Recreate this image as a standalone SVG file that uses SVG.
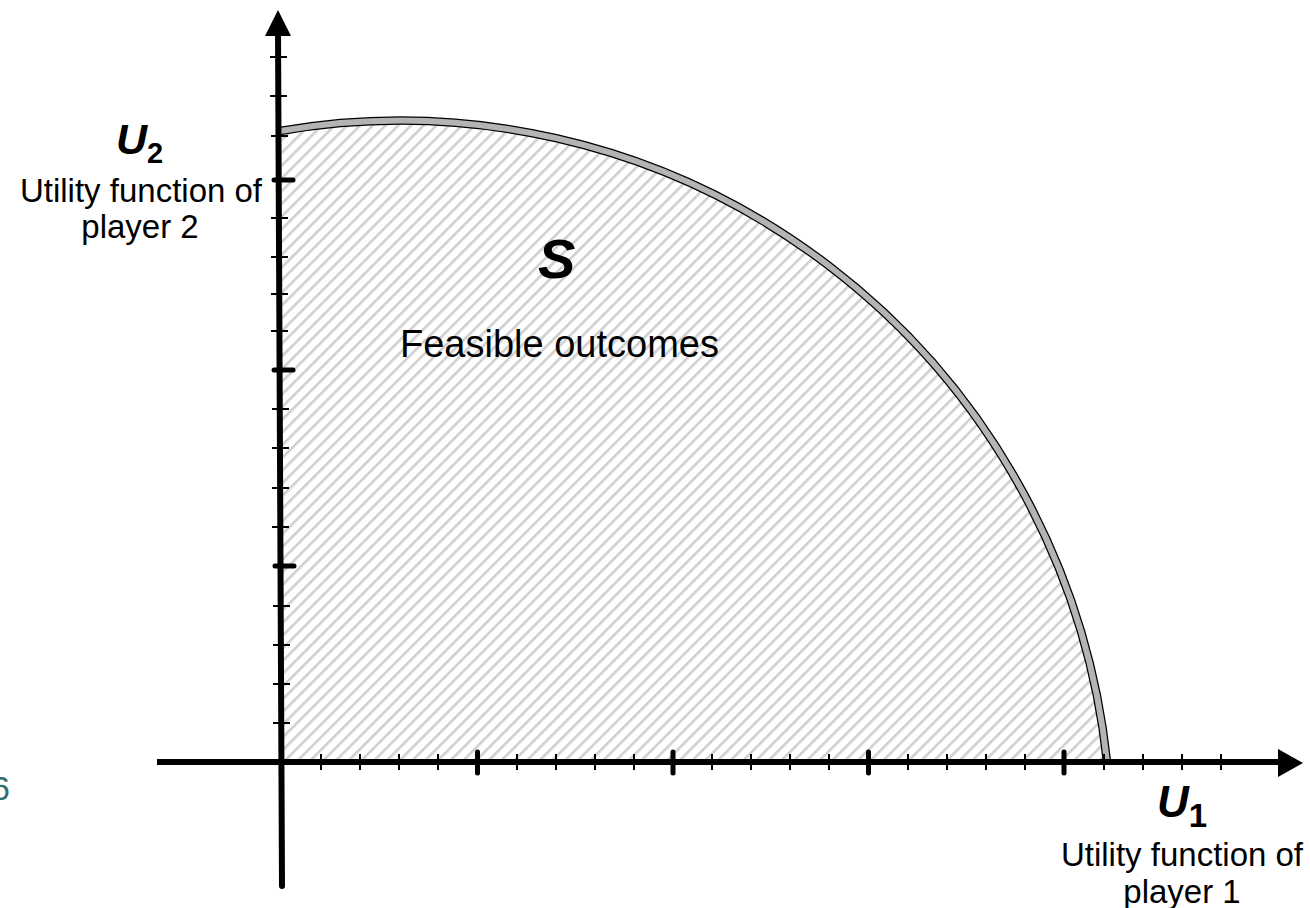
<svg xmlns="http://www.w3.org/2000/svg" width="1310" height="908" viewBox="0 0 1310 908">
  <style>
    .lbl { font-family: "Liberation Sans", Arial, sans-serif; fill: #000; }
    .ax { stroke: #000; stroke-width: 6; fill: none; }
    .mn { stroke: #000; stroke-width: 2; }
    .mj { stroke: #000; stroke-width: 5; stroke-linecap: round; }
  </style>
  <defs>
    <pattern id="hatch" patternUnits="userSpaceOnUse" width="9" height="9" patternTransform="rotate(45)">
      <rect x="0" y="0" width="2.6" height="9" fill="#cfcfcf"/>
    </pattern>
  </defs>
  <rect width="1310" height="908" fill="#fff"/>

  <g id="feasible-region">
    <path d="M 282 130 A 710.9 717 0 0 1 1107 762 L 282 762 Z" fill="url(#hatch)"/>
  </g>

  <g id="frontier">
    <path d="M 280 131 A 710.9 717 0 0 1 1107 762" fill="none" stroke="#000" stroke-width="8.5"/>
    <path d="M 280 131 A 710.9 717 0 0 1 1107 762" fill="none" stroke="#b4b4b4" stroke-width="6"/>
  </g>

  <g id="connectors">
    <line class="ax" x1="278" y1="30" x2="282" y2="886" stroke-linecap="round"/>
    <polygon points="278,10 265,36 291,36" fill="#000"/>
    <line class="ax" x1="157" y1="762" x2="1282" y2="762"/>
    <polygon points="1303,763 1278,749 1278,777" fill="#000"/>
    <g id="x-ticks">
      <line class="mn" x1="321" y1="754" x2="321" y2="770"/>
      <line class="mn" x1="360" y1="754" x2="360" y2="770"/>
      <line class="mn" x1="399" y1="754" x2="399" y2="770"/>
      <line class="mn" x1="438" y1="754" x2="438" y2="770"/>
      <line class="mj" x1="477.5" y1="752" x2="477.5" y2="773"/>
      <line class="mn" x1="517" y1="754" x2="517" y2="770"/>
      <line class="mn" x1="556" y1="754" x2="556" y2="770"/>
      <line class="mn" x1="595" y1="754" x2="595" y2="770"/>
      <line class="mn" x1="634" y1="754" x2="634" y2="770"/>
      <line class="mj" x1="673" y1="752" x2="673" y2="773"/>
      <line class="mn" x1="712" y1="754" x2="712" y2="770"/>
      <line class="mn" x1="751" y1="754" x2="751" y2="770"/>
      <line class="mn" x1="790" y1="754" x2="790" y2="770"/>
      <line class="mn" x1="829" y1="754" x2="829" y2="770"/>
      <line class="mj" x1="868.5" y1="752" x2="868.5" y2="773"/>
      <line class="mn" x1="908" y1="754" x2="908" y2="770"/>
      <line class="mn" x1="947" y1="754" x2="947" y2="770"/>
      <line class="mn" x1="986" y1="754" x2="986" y2="770"/>
      <line class="mn" x1="1025" y1="754" x2="1025" y2="770"/>
      <line class="mj" x1="1064" y1="752" x2="1064" y2="773"/>
      <line class="mn" x1="1104" y1="754" x2="1104" y2="770"/>
      <line class="mn" x1="1143" y1="754" x2="1143" y2="770"/>
      <line class="mn" x1="1182" y1="754" x2="1182" y2="770"/>
      <line class="mn" x1="1221" y1="754" x2="1221" y2="770"/>
    </g>
    <g id="y-ticks">
      <line class="mn" x1="270" y1="57" x2="287" y2="57"/>
      <line class="mn" x1="270" y1="96" x2="287" y2="96"/>
      <line class="mn" x1="271" y1="136" x2="288" y2="136"/>
      <line class="mj" x1="274" y1="180" x2="293" y2="180"/>
      <line class="mn" x1="271" y1="218" x2="288" y2="218"/>
      <line class="mn" x1="271" y1="257" x2="288" y2="257"/>
      <line class="mn" x1="271" y1="294" x2="288" y2="294"/>
      <line class="mn" x1="271" y1="331" x2="288" y2="331"/>
      <line class="mj" x1="274" y1="370" x2="293" y2="370"/>
      <line class="mn" x1="272" y1="409" x2="289" y2="409"/>
      <line class="mn" x1="272" y1="448" x2="289" y2="448"/>
      <line class="mn" x1="272" y1="488" x2="289" y2="488"/>
      <line class="mn" x1="272" y1="527" x2="289" y2="527"/>
      <line class="mj" x1="275" y1="566" x2="294" y2="566"/>
      <line class="mn" x1="273" y1="606" x2="290" y2="606"/>
      <line class="mn" x1="273" y1="645" x2="290" y2="645"/>
      <line class="mn" x1="273" y1="684" x2="290" y2="684"/>
      <line class="mn" x1="273" y1="723" x2="290" y2="723"/>
    </g>
  </g>

  <g id="label-u2">
    <text class="lbl" x="116" y="154" font-size="43" font-weight="bold"><tspan font-style="italic">U</tspan><tspan font-size="29" dy="9">2</tspan></text>
    <text class="lbl" x="141" y="202" font-size="33" text-anchor="middle">Utility function of</text>
    <text class="lbl" x="140" y="238" font-size="33" text-anchor="middle">player 2</text>
  </g>

  <g id="label-u1">
    <text class="lbl" x="1157" y="817" font-size="44" font-weight="bold"><tspan font-style="italic">U</tspan><tspan font-size="33" dy="10">1</tspan></text>
    <text class="lbl" x="1182" y="866" font-size="33" text-anchor="middle">Utility function of</text>
    <text class="lbl" x="1182" y="903" font-size="33" text-anchor="middle">player 1</text>
  </g>

  <g id="label-s">
    <text class="lbl" x="538" y="278" font-size="56" font-weight="bold" font-style="italic">S</text>
    <text class="lbl" x="400" y="357" font-size="38">Feasible outcomes</text>
  </g>

  <text x="-9" y="800" font-family="Liberation Sans, Arial, sans-serif" font-size="34" fill="#336e6e">6</text>
</svg>
